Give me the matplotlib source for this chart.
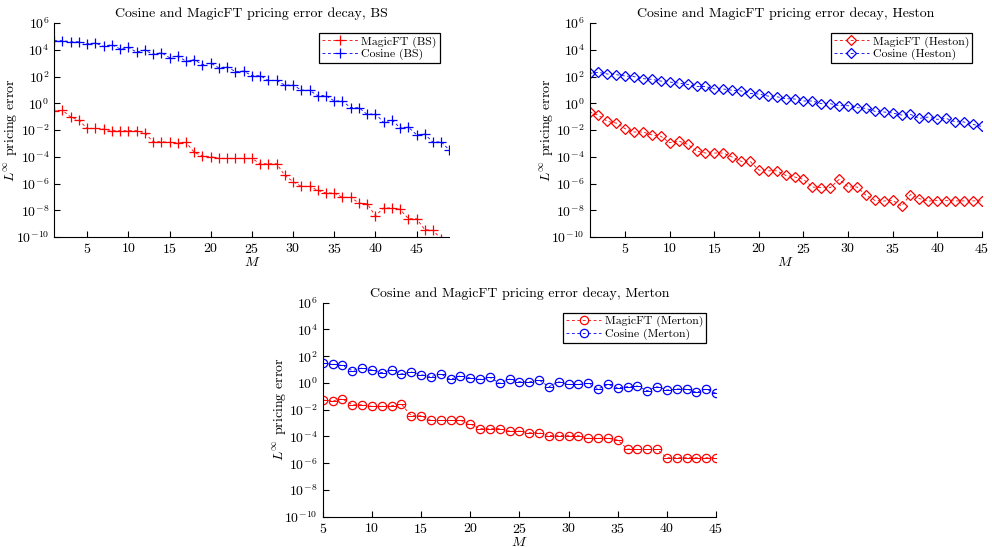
import matplotlib
matplotlib.use("Agg")
import matplotlib.pyplot as plt
import numpy as np

plt.rcParams["font.family"] = "serif"
plt.rcParams["font.serif"] = ["cmr10", "DejaVu Serif"]
plt.rcParams["mathtext.fontset"] = "cm"
plt.rcParams["axes.unicode_minus"] = False
plt.rcParams["axes.formatter.use_mathtext"] = True

# log10 of the L-infinity pricing error
m_bs = np.arange(1, 50)
bs_magic = [-0.58, -0.53, -1.03, -1.28, -1.88, -1.88, -1.93, -2.05, -2.05, -2.05,
            -2.05, -2.22, -2.87, -2.87, -2.92, -2.97, -2.92, -3.67, -3.94, -3.99,
            -4.12, -4.12, -4.12, -4.12, -4.12, -4.52, -4.52, -4.52, -5.39, -5.86,
            -6.21, -6.21, -6.51, -6.71, -6.71, -7.03, -7.03, -7.46, -7.51, -8.41,
            -7.83, -7.83, -7.93, -8.63, -8.63, -9.45, -9.50, -10.15, np.nan]
bs_cosine = [4.68, 4.68, 4.60, 4.60, 4.45, 4.50, 4.25, 4.38, 4.06, 4.18,
             3.83, 3.98, 3.66, 3.78, 3.41, 3.56, 3.13, 3.26, 2.88, 3.01,
             2.64, 2.74, 2.36, 2.41, 2.06, 2.06, 1.71, 1.71, 1.36, 1.36,
             0.99, 0.97, 0.57, 0.57, 0.17, 0.17, -0.33, -0.33, -0.83, -0.78,
             -1.43, -1.23, -1.85, -1.78, -2.35, -2.30, -2.92, -2.87, -3.52]

m_heston = np.arange(1, 46)
heston_magic = [-0.65, -0.90, -1.35, -1.48, -1.90, -2.15, -2.15, -2.37, -2.47, -2.95,
                -2.82, -3.07, -3.57, -3.72, -3.72, -3.72, -4.02, -4.34, -4.34, -5.00,
                -5.05, -5.05, -5.39, -5.51, -5.69, -6.26, -6.31, -6.31, -5.69, -6.26,
                -6.26, -6.88, -7.26, -7.31, -7.26, -7.68, -6.83, -7.13, -7.31, -7.28,
                -7.28, -7.30, -7.30, -7.30, -7.30]
heston_cosine = [2.24, 2.31, 2.19, 2.14, 2.04, 1.99, 1.84, 1.79, 1.66, 1.59,
                 1.51, 1.41, 1.26, 1.26, 1.07, 1.07, 0.97, 0.92, 0.74, 0.69,
                 0.54, 0.49, 0.34, 0.32, 0.17, 0.17, -0.03, -0.03, -0.18, -0.18,
                 -0.33, -0.38, -0.60, -0.65, -0.73, -0.88, -0.83, -1.13, -1.03, -1.20,
                 -1.13, -1.38, -1.40, -1.58, -1.73]

m_merton = np.arange(5, 46)
merton_magic = [-1.28, -1.33, -1.20, -1.63, -1.63, -1.75, -1.75, -1.70, -1.58, -2.45,
                -2.45, -2.80, -2.80, -2.80, -2.80, -3.07, -3.42, -3.42, -3.42, -3.60,
                -3.60, -3.72, -3.72, -3.94, -3.94, -3.94, -3.94, -4.14, -4.14, -4.14,
                -4.27, -4.94, -4.97, -4.97, -4.97, -5.59, -5.59, -5.59, -5.59, -5.59,
                -5.59]
merton_cosine = [1.46, 1.41, 1.31, 0.92, 1.12, 0.97, 0.77, 0.97, 0.67, 0.82,
                 0.62, 0.47, 0.67, 0.27, 0.54, 0.37, 0.27, 0.42, -0.03, 0.29,
                 0.09, 0.07, 0.22, -0.28, 0.09, -0.11, -0.11, -0.03, -0.45, -0.11,
                 -0.36, -0.28, -0.23, -0.58, -0.28, -0.53, -0.45, -0.45, -0.70, -0.45,
                 -0.78]

panels = [
    ("BS", m_bs, bs_magic, bs_cosine, "+", (1, 49), [0.0547, 0.5667, 0.3984, 0.3912]),
    ("Heston", m_heston, heston_magic, heston_cosine, "D", (1, 45), [0.5943, 0.5667, 0.3954, 0.3912]),
    ("Merton", m_merton, merton_magic, merton_cosine, "o", (5, 45), [0.3253, 0.0554, 0.3965, 0.3912]),
]
marker_sizes = {"+": 6.5, "D": 4.6, "o": 6.0}


def draw_panel(fig, name, m, magic, cosine, marker, xlim, rect):
    ax = fig.add_axes(rect)
    kw = dict(linestyle="--", linewidth=0.6, markerfacecolor="none",
              markeredgewidth=0.9, dashes=(3.5, 3), markersize=marker_sizes[marker])
    ax.plot(m, 10.0 ** np.array(magic), marker=marker, color="red",
            label=f"MagicFT ({name})", **kw)
    ax.plot(m, 10.0 ** np.array(cosine), marker=marker, color="blue",
            label=f"Cosine ({name})", **kw)
    if marker == "o":
        # circles in the original carry a horizontal bar
        for vals, c in ((magic, "red"), (cosine, "blue")):
            ax.plot(m, 10.0 ** np.array(vals), linestyle="none", marker="_",
                    color=c, markersize=5.8, markeredgewidth=0.7)
    ax.set_yscale("log")
    ax.set_ylim(1e-10, 1e6)
    ax.set_xlim(*xlim)
    ax.set_yticks([10.0 ** k for k in range(-10, 7, 2)])
    ax.yaxis.set_minor_locator(matplotlib.ticker.NullLocator())
    ax.set_xticks(np.arange(5, xlim[1] + 1, 5))
    ax.tick_params(direction="in", length=4, width=0.8, labelsize=10)
    for side in ("top", "right"):
        ax.spines[side].set_visible(False)
    ax.set_title(f"Cosine and MagicFT pricing error decay, {name}", fontsize=10, pad=4)
    ax.set_xlabel("$M$", fontsize=10, labelpad=0)
    ax.set_ylabel(r"$L^{\infty}$ pricing error", fontsize=10)
    ax.yaxis.set_label_coords(-0.086, 0.5)
    leg = ax.legend(loc="upper right", fontsize=8.5, fancybox=False,
                    edgecolor="black", framealpha=1, handlelength=3,
                    borderpad=0.25, labelspacing=0.1, handletextpad=0.3,
                    bbox_to_anchor=(0.99, 0.98))
    leg.get_frame().set_linewidth(0.9)
    return ax


fig = plt.figure(figsize=(9.92, 5.47), dpi=100)
for p in panels:
    draw_panel(fig, *p)
fig.savefig("out.png", dpi=100)
